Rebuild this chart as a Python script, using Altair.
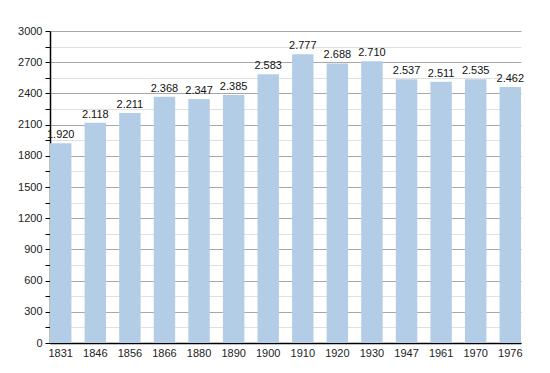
import altair as alt
import pandas as pd

years = ["1831", "1846", "1856", "1866", "1880", "1890", "1900", "1910", "1920", "1930", "1947", "1961", "1970", "1976"]
population = [1920, 2118, 2211, 2368, 2347, 2385, 2583, 2777, 2688, 2710, 2537, 2511, 2535, 2462]

df = pd.DataFrame({"year": years, "pop": population})

FONT = "Liberation Sans"

x = alt.X("year:N", sort=years, title=None,
          scale=alt.Scale(paddingInner=0.38, paddingOuter=0.0, align=0),
          axis=alt.Axis(labelAngle=0, ticks=False, domainColor="black", domainWidth=1.5,
                        labelFont=FONT, labelFontSize=11, labelColor="#222", labelPadding=4))

y_axis = alt.Axis(values=list(range(0, 3001, 150)),
                  labelExpr="datum.value % 300 === 0 ? datum.label : ''",
                  labelOverlap=False,
                  format="d",
                  gridColor={"condition": {"test": "datum.value % 300 === 0", "value": "#a8a8a8"}, "value": "#e0e0e0"},
                  gridWidth=1,
                  domainColor="black", domainWidth=1.5,
                  tickColor="black", tickSize=5,
                  labelFont=FONT, labelFontSize=11, labelColor="#222", labelPadding=3)

y = alt.Y("pop:Q", title=None, scale=alt.Scale(domain=[0, 3000], nice=False), axis=y_axis)

base = alt.Chart(df).encode(x=x, y=y)

bars = base.mark_bar(color="#b4cde6")

labels = base.transform_calculate(
    lbl="replace(format(datum.pop, ','), ',', '.')"
).mark_text(dy=-8, font=FONT, fontSize=11, color="#111").encode(
    text="lbl:N",
)

chart = (bars + labels).properties(
    width=471, height=312,
    autosize=alt.AutoSizeParams(type="none"),
    padding={"left": 42, "top": 23, "right": 20, "bottom": 20},
).configure_view(stroke=None)

chart.save("out.html", embed_options={"renderer": "svg", "actions": False})
